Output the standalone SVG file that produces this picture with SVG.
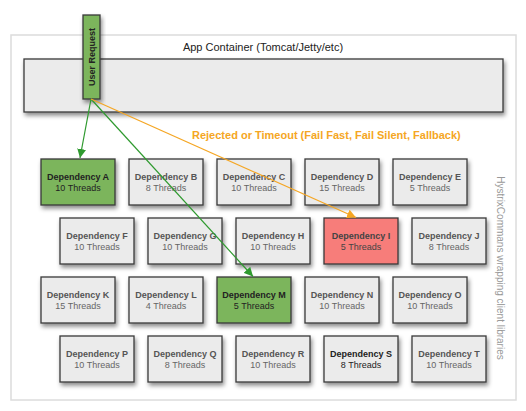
<svg xmlns="http://www.w3.org/2000/svg" width="526" height="411" viewBox="0 0 526 411">
<defs>
<filter id="sh" x="-20%" y="-20%" width="150%" height="160%">
<feDropShadow dx="1.5" dy="3" stdDeviation="2" flood-color="#000" flood-opacity="0.45"/>
</filter>
<marker id="ag" viewBox="0 0 10 10" refX="10" refY="5" markerWidth="9" markerHeight="9" markerUnits="userSpaceOnUse" orient="auto">
<path d="M0,0 L10,5 L0,10 z" fill="#2f9a2f"/>
</marker>
<marker id="ao" viewBox="0 0 10 10" refX="10" refY="5" markerWidth="9" markerHeight="9" markerUnits="userSpaceOnUse" orient="auto">
<path d="M0,0 L10,5 L0,10 z" fill="#f5a623"/>
</marker>
<style>
.box{fill:#ebebeb;stroke:#3a3a3a;stroke-width:1.3;filter:url(#sh)}
.green{fill:#7cb55c}
.red{fill:#f77d7a}
.t1{font-family:"Liberation Sans",Arial,sans-serif;font-size:9px;font-weight:bold;fill:#555;text-anchor:middle}
.t2{font-family:"Liberation Sans",Arial,sans-serif;font-size:9px;fill:#666;text-anchor:middle}
.dark .t1,.dark .t2{fill:#222}
.mid .t1,.mid .t2{fill:#444}
</style>
</defs>
<rect width="526" height="411" fill="#fff"/>
<g id="container">
<rect x="11" y="35" width="505" height="365" fill="#fff" stroke="#dcdcdc" stroke-width="1.5"/>
<text x="263" y="50.5" font-family="Liberation Sans,Arial,sans-serif" font-size="11" fill="#222" text-anchor="middle">App Container (Tomcat/Jetty/etc)</text>
<text transform="translate(497,268) rotate(90)" font-family="Liberation Sans,Arial,sans-serif" font-size="10" fill="#999" text-anchor="middle">HystrixCommans wrapping client libraries</text>
</g>
<g id="app-bar">
<rect class="box" x="24" y="59" width="479" height="53"/>
</g>
<g id="user-request">
<rect class="box green" x="83" y="15" width="17" height="84"/>
<text transform="translate(94.5,57) rotate(-90)" font-family="Liberation Sans,Arial,sans-serif" font-size="9" font-weight="bold" fill="#222" text-anchor="middle">User Request</text>
</g>
<g id="dep-A" class="dark"><rect class="box green" x="41" y="159" width="74" height="46"/><text class="t1" x="78" y="180">Dependency A</text><text class="t2" x="78" y="191">10 Threads</text></g>
<g id="dep-B"><rect class="box" x="129" y="159" width="74" height="46"/><text class="t1" x="166" y="180">Dependency B</text><text class="t2" x="166" y="191">8 Threads</text></g>
<g id="dep-C"><rect class="box" x="217" y="159" width="74" height="46"/><text class="t1" x="254" y="180">Dependency C</text><text class="t2" x="254" y="191">10 Threads</text></g>
<g id="dep-D"><rect class="box" x="305" y="159" width="74" height="46"/><text class="t1" x="342" y="180">Dependency D</text><text class="t2" x="342" y="191">15 Threads</text></g>
<g id="dep-E"><rect class="box" x="393" y="159" width="74" height="46"/><text class="t1" x="430" y="180">Dependency E</text><text class="t2" x="430" y="191">5 Threads</text></g>
<g id="dep-F"><rect class="box" x="60" y="218" width="74" height="46"/><text class="t1" x="97" y="239">Dependency F</text><text class="t2" x="97" y="250">10 Threads</text></g>
<g id="dep-G"><rect class="box" x="148" y="218" width="74" height="46"/><text class="t1" x="185" y="239">Dependency G</text><text class="t2" x="185" y="250">10 Threads</text></g>
<g id="dep-H"><rect class="box" x="236" y="218" width="74" height="46"/><text class="t1" x="273" y="239">Dependency H</text><text class="t2" x="273" y="250">10 Threads</text></g>
<g id="dep-I" class="mid"><rect class="box red" x="324" y="218" width="74" height="46"/><text class="t1" x="361" y="239">Dependency I</text><text class="t2" x="361" y="250">5 Threads</text></g>
<g id="dep-J"><rect class="box" x="412" y="218" width="74" height="46"/><text class="t1" x="449" y="239">Dependency J</text><text class="t2" x="449" y="250">8 Threads</text></g>
<g id="dep-K"><rect class="box" x="41" y="277" width="74" height="46"/><text class="t1" x="78" y="298">Dependency K</text><text class="t2" x="78" y="309">15 Threads</text></g>
<g id="dep-L"><rect class="box" x="129" y="277" width="74" height="46"/><text class="t1" x="166" y="298">Dependency L</text><text class="t2" x="166" y="309">4 Threads</text></g>
<g id="dep-M" class="dark"><rect class="box green" x="217" y="277" width="74" height="46"/><text class="t1" x="254" y="298">Dependency M</text><text class="t2" x="254" y="309">5 Threads</text></g>
<g id="dep-N"><rect class="box" x="305" y="277" width="74" height="46"/><text class="t1" x="342" y="298">Dependency N</text><text class="t2" x="342" y="309">10 Threads</text></g>
<g id="dep-O"><rect class="box" x="393" y="277" width="74" height="46"/><text class="t1" x="430" y="298">Dependency O</text><text class="t2" x="430" y="309">10 Threads</text></g>
<g id="dep-P"><rect class="box" x="60" y="336" width="74" height="46"/><text class="t1" x="97" y="357">Dependency P</text><text class="t2" x="97" y="368">10 Threads</text></g>
<g id="dep-Q"><rect class="box" x="148" y="336" width="74" height="46"/><text class="t1" x="185" y="357">Dependency Q</text><text class="t2" x="185" y="368">8 Threads</text></g>
<g id="dep-R"><rect class="box" x="236" y="336" width="74" height="46"/><text class="t1" x="273" y="357">Dependency R</text><text class="t2" x="273" y="368">10 Threads</text></g>
<g id="dep-S" class="dark"><rect class="box" x="324" y="336" width="74" height="46"/><text class="t1" x="361" y="357">Dependency S</text><text class="t2" x="361" y="368">8 Threads</text></g>
<g id="dep-T"><rect class="box" x="412" y="336" width="74" height="46"/><text class="t1" x="449" y="357">Dependency T</text><text class="t2" x="449" y="368">10 Threads</text></g>
<g id="connectors" fill="none" stroke-width="1.2">
<line x1="91" y1="99" x2="80" y2="158" stroke="#2f9a2f" marker-end="url(#ag)"/>
<line x1="91" y1="99" x2="253" y2="276.5" stroke="#2f9a2f" marker-end="url(#ag)"/>
<line x1="91" y1="99" x2="356" y2="217.5" stroke="#f5a623" marker-end="url(#ao)"/>
<text x="192" y="139" font-family="Liberation Sans,Arial,sans-serif" font-size="11" font-weight="bold" fill="#f5a623" stroke="none">Rejected or Timeout (Fail Fast, Fail Silent, Fallback)</text>
</g>
</svg>
